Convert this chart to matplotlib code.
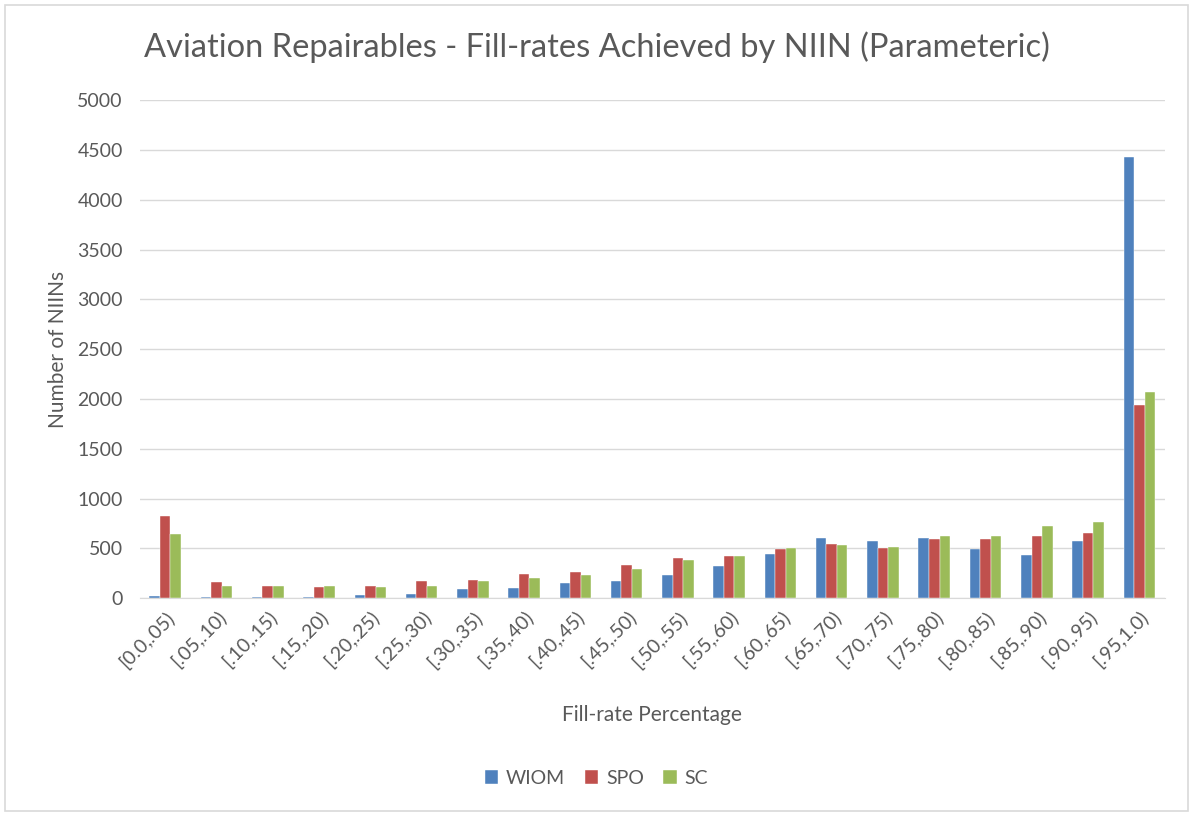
import numpy as np
import matplotlib.pyplot as plt
from matplotlib.patches import Rectangle

plt.rcParams['font.family'] = ['Lato', 'DejaVu Sans']

categories = ['[0.0,.05)', '[.05,.10)', '[.10,.15)', '[.15,.20)', '[.20,.25)',
              '[.25,.30)', '[.30,.35)', '[.35,.40)', '[.40,.45)', '[.45,.50)',
              '[.50,.55)', '[.55,.60)', '[.60,.65)', '[.65,.70)', '[.70,.75)',
              '[.75,.80)', '[.80,.85)', '[.85,.90)', '[.90,.95)', '[.95,1.0)']
wiom = [17, 15, 15, 15, 27, 40, 90, 100, 150, 176,
        233, 320, 443, 603, 576, 603, 493, 430, 576, 4430]
spo = [826, 163, 123, 113, 123, 176, 186, 246, 260, 333,
       406, 420, 493, 543, 503, 590, 590, 626, 653, 1940]
sc = [643, 123, 123, 123, 113, 123, 176, 200, 233, 296,
      383, 420, 500, 530, 516, 626, 626, 726, 760, 2073]

series = [('WIOM', wiom, '#4F81BD'), ('SPO', spo, '#C0504D'), ('SC', sc, '#9BBB59')]

fig = plt.figure(figsize=(11.93, 8.16), dpi=100)
ax = fig.add_axes([0.117, 0.267, 0.8595, 0.61])

x = np.arange(len(categories))
w = 0.205
for i, (name, vals, col) in enumerate(series):
    ax.bar(x + (i - 1) * w, vals, width=w, color=col, edgecolor='white',
           linewidth=0.3, label=name, zorder=3)

ax.set_xlim(-0.5, len(categories) - 0.5)
ax.set_ylim(0, 5000)
ax.set_yticks(np.arange(0, 5001, 500))
ax.grid(axis='y', color='#D9D9D9', linewidth=1, zorder=0)
for s in ['top', 'right', 'left']:
    ax.spines[s].set_visible(False)
ax.spines['bottom'].set_color('#D9D9D9')
ax.tick_params(length=0, labelsize=14, labelcolor='#595959')
ax.tick_params(axis='y', pad=12)
ax.set_xticks(x)
ax.set_xticklabels(categories, rotation=45, ha='right', rotation_mode='anchor')
ax.tick_params(axis='x', pad=7)

ax.set_ylabel('Number of NIINs', fontsize=15, color='#595959', labelpad=7)
ax.set_xlabel('Fill-rate Percentage', fontsize=15, color='#595959', labelpad=25)
fig.text(0.5, 0.942, 'Aviation Repairables - Fill-rates Achieved by NIIN (Parameteric)',
         ha='center', va='center', fontsize=23.5, color='#595959')

leg = fig.legend(loc='center', bbox_to_anchor=(0.5, 0.046), ncol=3, frameon=False,
                 fontsize=14, handlelength=0.7, handleheight=0.7, handletextpad=0.4,
                 columnspacing=1.0)
for t in leg.get_texts():
    t.set_color('#595959')

fig.patches.append(Rectangle((0.004, 0.006), 0.992, 0.988, transform=fig.transFigure,
                             fill=False, edgecolor='#D9D9D9', linewidth=1.2))

fig.savefig('out.png', dpi=100)
